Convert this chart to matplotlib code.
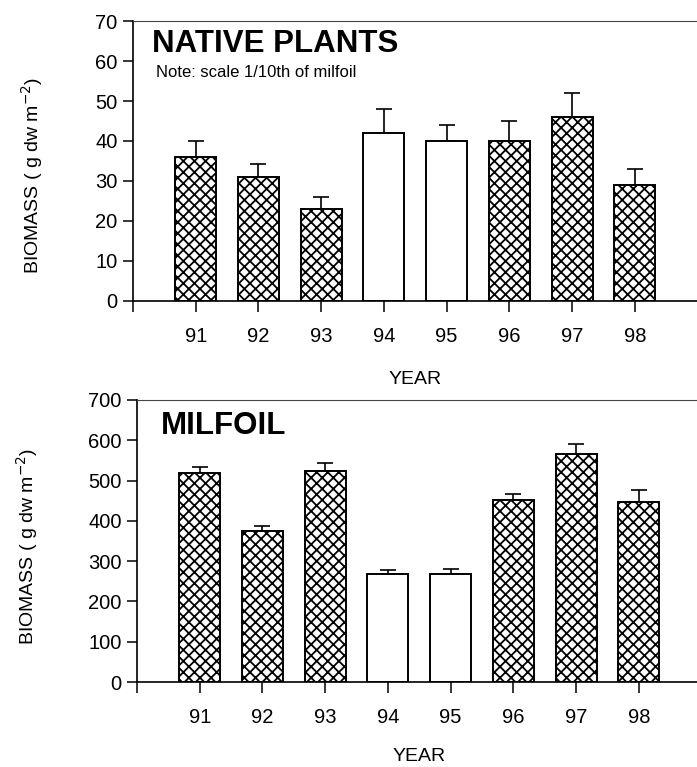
import numpy as np
import matplotlib
matplotlib.use("Agg")
import matplotlib.pyplot as plt

plt.rcParams['font.family'] = ['Liberation Sans', 'DejaVu Sans']
plt.rcParams['hatch.linewidth'] = 1.3

# data
years = [91, 92, 93, 94, 95, 96, 97, 98]
native = [36, 31, 23, 42, 40, 40, 46, 29]
native_se = [4, 3.2, 3, 6, 4, 5, 6, 4]
milfoil = [518, 375, 524, 267, 267, 452, 565, 446]
milfoil_se = [16, 12, 20, 12, 14, 15, 27, 30]
hatched = [True, True, True, False, False, True, True, True]

fig = plt.figure(figsize=(6.97, 7.67), dpi=100)
ax1 = fig.add_axes([0.1908, 0.6076, 0.81, 0.3650])
ax2 = fig.add_axes([0.1966, 0.1108, 0.81, 0.3677])


def draw_panel(ax, vals, errs, ymax, ystep, title, tx, ty, lx, ly, xpad, note=None):
    hatches = ['xxx' if h else '' for h in hatched]
    bars = ax.bar(years, vals, width=0.655, color='white', edgecolor='black',
                  linewidth=1.4, zorder=2)
    for b, h in zip(bars, hatches):
        b.set_hatch(h)
    ax.errorbar(years, vals, yerr=[np.zeros(len(errs)), errs], fmt='none',
                ecolor='black', elinewidth=1.2, capsize=5.5, capthick=1.2, zorder=1)
    ax.set_xlim(90, 99)
    ax.set_ylim(0, ymax)
    ax.set_yticks(np.arange(0, ymax + 1, ystep))
    ax.set_xticks([90] + years)
    ax.set_xticklabels([''] + [str(y) for y in years])
    ax.tick_params(axis='x', direction='out', length=8, width=1.1, pad=11, labelsize=14.5)
    ax.tick_params(axis='y', direction='out', length=7, width=1.1, pad=4, labelsize=14.5)
    ax.spines['right'].set_visible(False)
    ax.spines['top'].set_color('#444444')
    ax.spines['left'].set_linewidth(1.2)
    ax.spines['bottom'].set_linewidth(1.2)
    ax.set_xlabel('YEAR', fontsize=14, labelpad=xpad)
    ax.set_ylabel('BIOMASS ( g dw m$^{-2}$)', fontsize=14)
    ax.yaxis.set_label_coords(lx, ly)
    ax.text(tx, ty, title, transform=ax.transAxes, fontsize=22.5,
            fontweight='bold', va='baseline', ha='left')
    if note:
        ax.text(0.041, 0.80, note, transform=ax.transAxes, fontsize=12,
                va='baseline', ha='left')


draw_panel(ax1, native, native_se, 70, 10, 'NATIVE PLANTS', 0.034, 0.889,
           -0.156, 0.45, 18, 'Note: scale 1/10th of milfoil')
draw_panel(ax2, milfoil, milfoil_se, 700, 100, 'MILFOIL', 0.0426, 0.879,
           -0.172, 0.48, 15)

fig.savefig('out.png', dpi=100)
